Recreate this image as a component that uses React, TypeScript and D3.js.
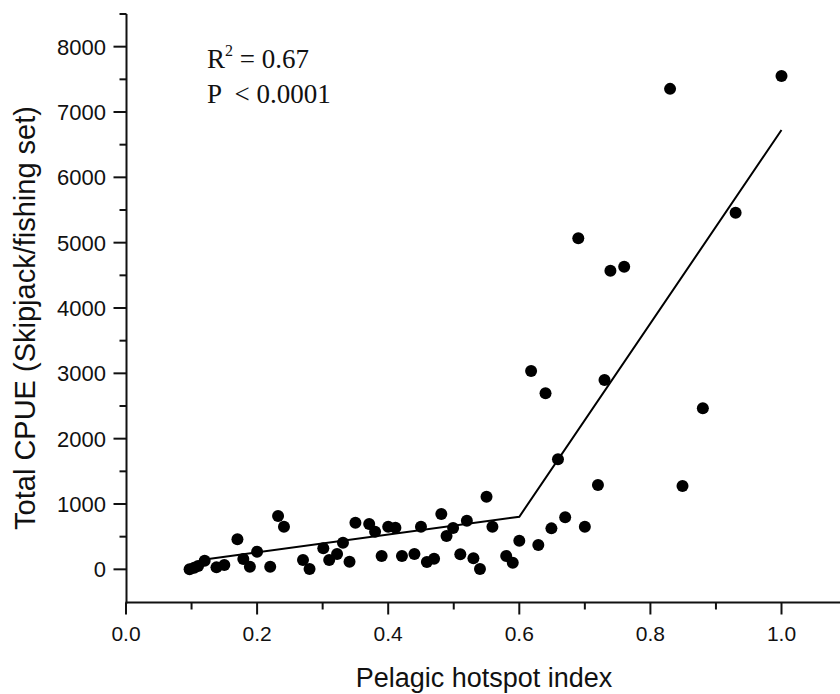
import React from "react";
import * as d3 from "d3";

const hotspotIndex = [0.097,0.104,0.110,0.120,0.138,0.150,0.170,0.179,0.189,0.200,0.220,0.232,0.241,0.270,0.280,0.301,0.310,0.322,0.331,0.341,0.350,0.371,0.380,0.390,0.400,0.411,0.421,0.440,0.450,0.459,0.470,0.481,0.489,0.499,0.510,0.520,0.530,0.540,0.550,0.559,0.580,0.590,0.600,0.618,0.629,0.640,0.649,0.659,0.670,0.690,0.700,0.720,0.730,0.739,0.760,0.830,0.849,0.880,0.930,1.000];
const totalCPUE = [0,25,50,130,30,66,459,158,40,270,40,816,652,142,5,321,142,234,408,116,713,693,576,204,652,637,204,234,652,112,162,846,510,632,230,744,170,5,1111,652,204,101,438,3035,372,2694,627,1684,796,5067,652,1290,2898,4571,4632,7354,1275,2464,5459,7551];

const fitX = [0.12, 0.60, 1.00];
const fitY = [150, 805, 6724];

const xMajorTicks = [0, 0.2, 0.4, 0.6, 0.8, 1.0];
const xMinorTicks = [0.1, 0.3, 0.5, 0.7, 0.9];
const yMajorTicks = [0, 1000, 2000, 3000, 4000, 5000, 6000, 7000, 8000];
const yMinorTicks = [500, 1500, 2500, 3500, 4500, 5500, 6500, 7500, 8500];

const xTitle = "Pelagic hotspot index";
const yTitle = "Total CPUE (Skipjack/fishing set)";

export default function App() {
  const W = 840, H = 694;
  const x = d3.scaleLinear().domain([0, 1.1]).range([126, 126 + 1.1 * 655.5]);
  const y = d3.scaleLinear().domain([-500, 8500]).range([602, 14]);
  const axisX = 126.5;
  const axisY = 602.5;
  const sans = "'Liberation Sans', Arial, sans-serif";
  const serif = "'Liberation Serif', 'Times New Roman', serif";
  const line = d3.line<number>().x((d) => x(d)).y((_, i) => y(fitY[i]));

  return (
    <svg width={W} height={H} style={{ position: "absolute", left: 0, top: 0, background: "#fff" }}>
      <rect width={W} height={H} fill="#fff" />
      <line x1={axisX} x2={axisX} y1={y(8500)} y2={axisY + 1} stroke="#111" strokeWidth={2} />
      <line x1={axisX - 1} x2={W} y1={axisY} y2={axisY} stroke="#111" strokeWidth={2} />
      {yMajorTicks.map((t) => (
        <g key={"ym" + t}>
          <line x1={axisX - 13} x2={axisX} y1={y(t)} y2={y(t)} stroke="#111" strokeWidth={2} />
          <text x={106} y={y(t)} dy="0.36em" textAnchor="end" fontFamily={sans} fontSize={22} fill="#111">{t}</text>
        </g>
      ))}
      {yMinorTicks.map((t) => (
        <line key={"yn" + t} x1={axisX - 7} x2={axisX} y1={y(t)} y2={y(t)} stroke="#111" strokeWidth={2} />
      ))}
      {xMajorTicks.map((t) => (
        <g key={"xm" + t}>
          <line x1={x(t)} x2={x(t)} y1={axisY} y2={axisY + 12} stroke="#111" strokeWidth={2} />
          <text x={x(t)} y={641} textAnchor="middle" fontFamily={sans} fontSize={21} fill="#111">{t.toFixed(1)}</text>
        </g>
      ))}
      {xMinorTicks.map((t) => (
        <line key={"xn" + t} x1={x(t)} x2={x(t)} y1={axisY} y2={axisY + 7} stroke="#111" strokeWidth={2} />
      ))}
      <text x={484} y={687} textAnchor="middle" fontFamily={sans} fontSize={27} fill="#111">{xTitle}</text>
      <text transform={`translate(35,318) rotate(-90)`} textAnchor="middle" fontFamily={sans} fontSize={29} fill="#111">{yTitle}</text>
      <path d={line(fitX) || ""} fill="none" stroke="#000" strokeWidth={2} />
      {hotspotIndex.map((v, i) => (
        <circle key={i} cx={x(v)} cy={y(totalCPUE[i])} r={6} fill="#000" />
      ))}
      <text x={207} y={68} fontFamily={serif} fontSize={27} fill="#111">
        R<tspan dy={-12} fontSize={16}>2</tspan><tspan dy={12}> = 0.67</tspan>
      </text>
      <text x={207} y={103} fontFamily={serif} fontSize={27} fill="#111" style={{ whiteSpace: "pre" }}>
        {"P  < 0.0001"}
      </text>
    </svg>
  );
}
